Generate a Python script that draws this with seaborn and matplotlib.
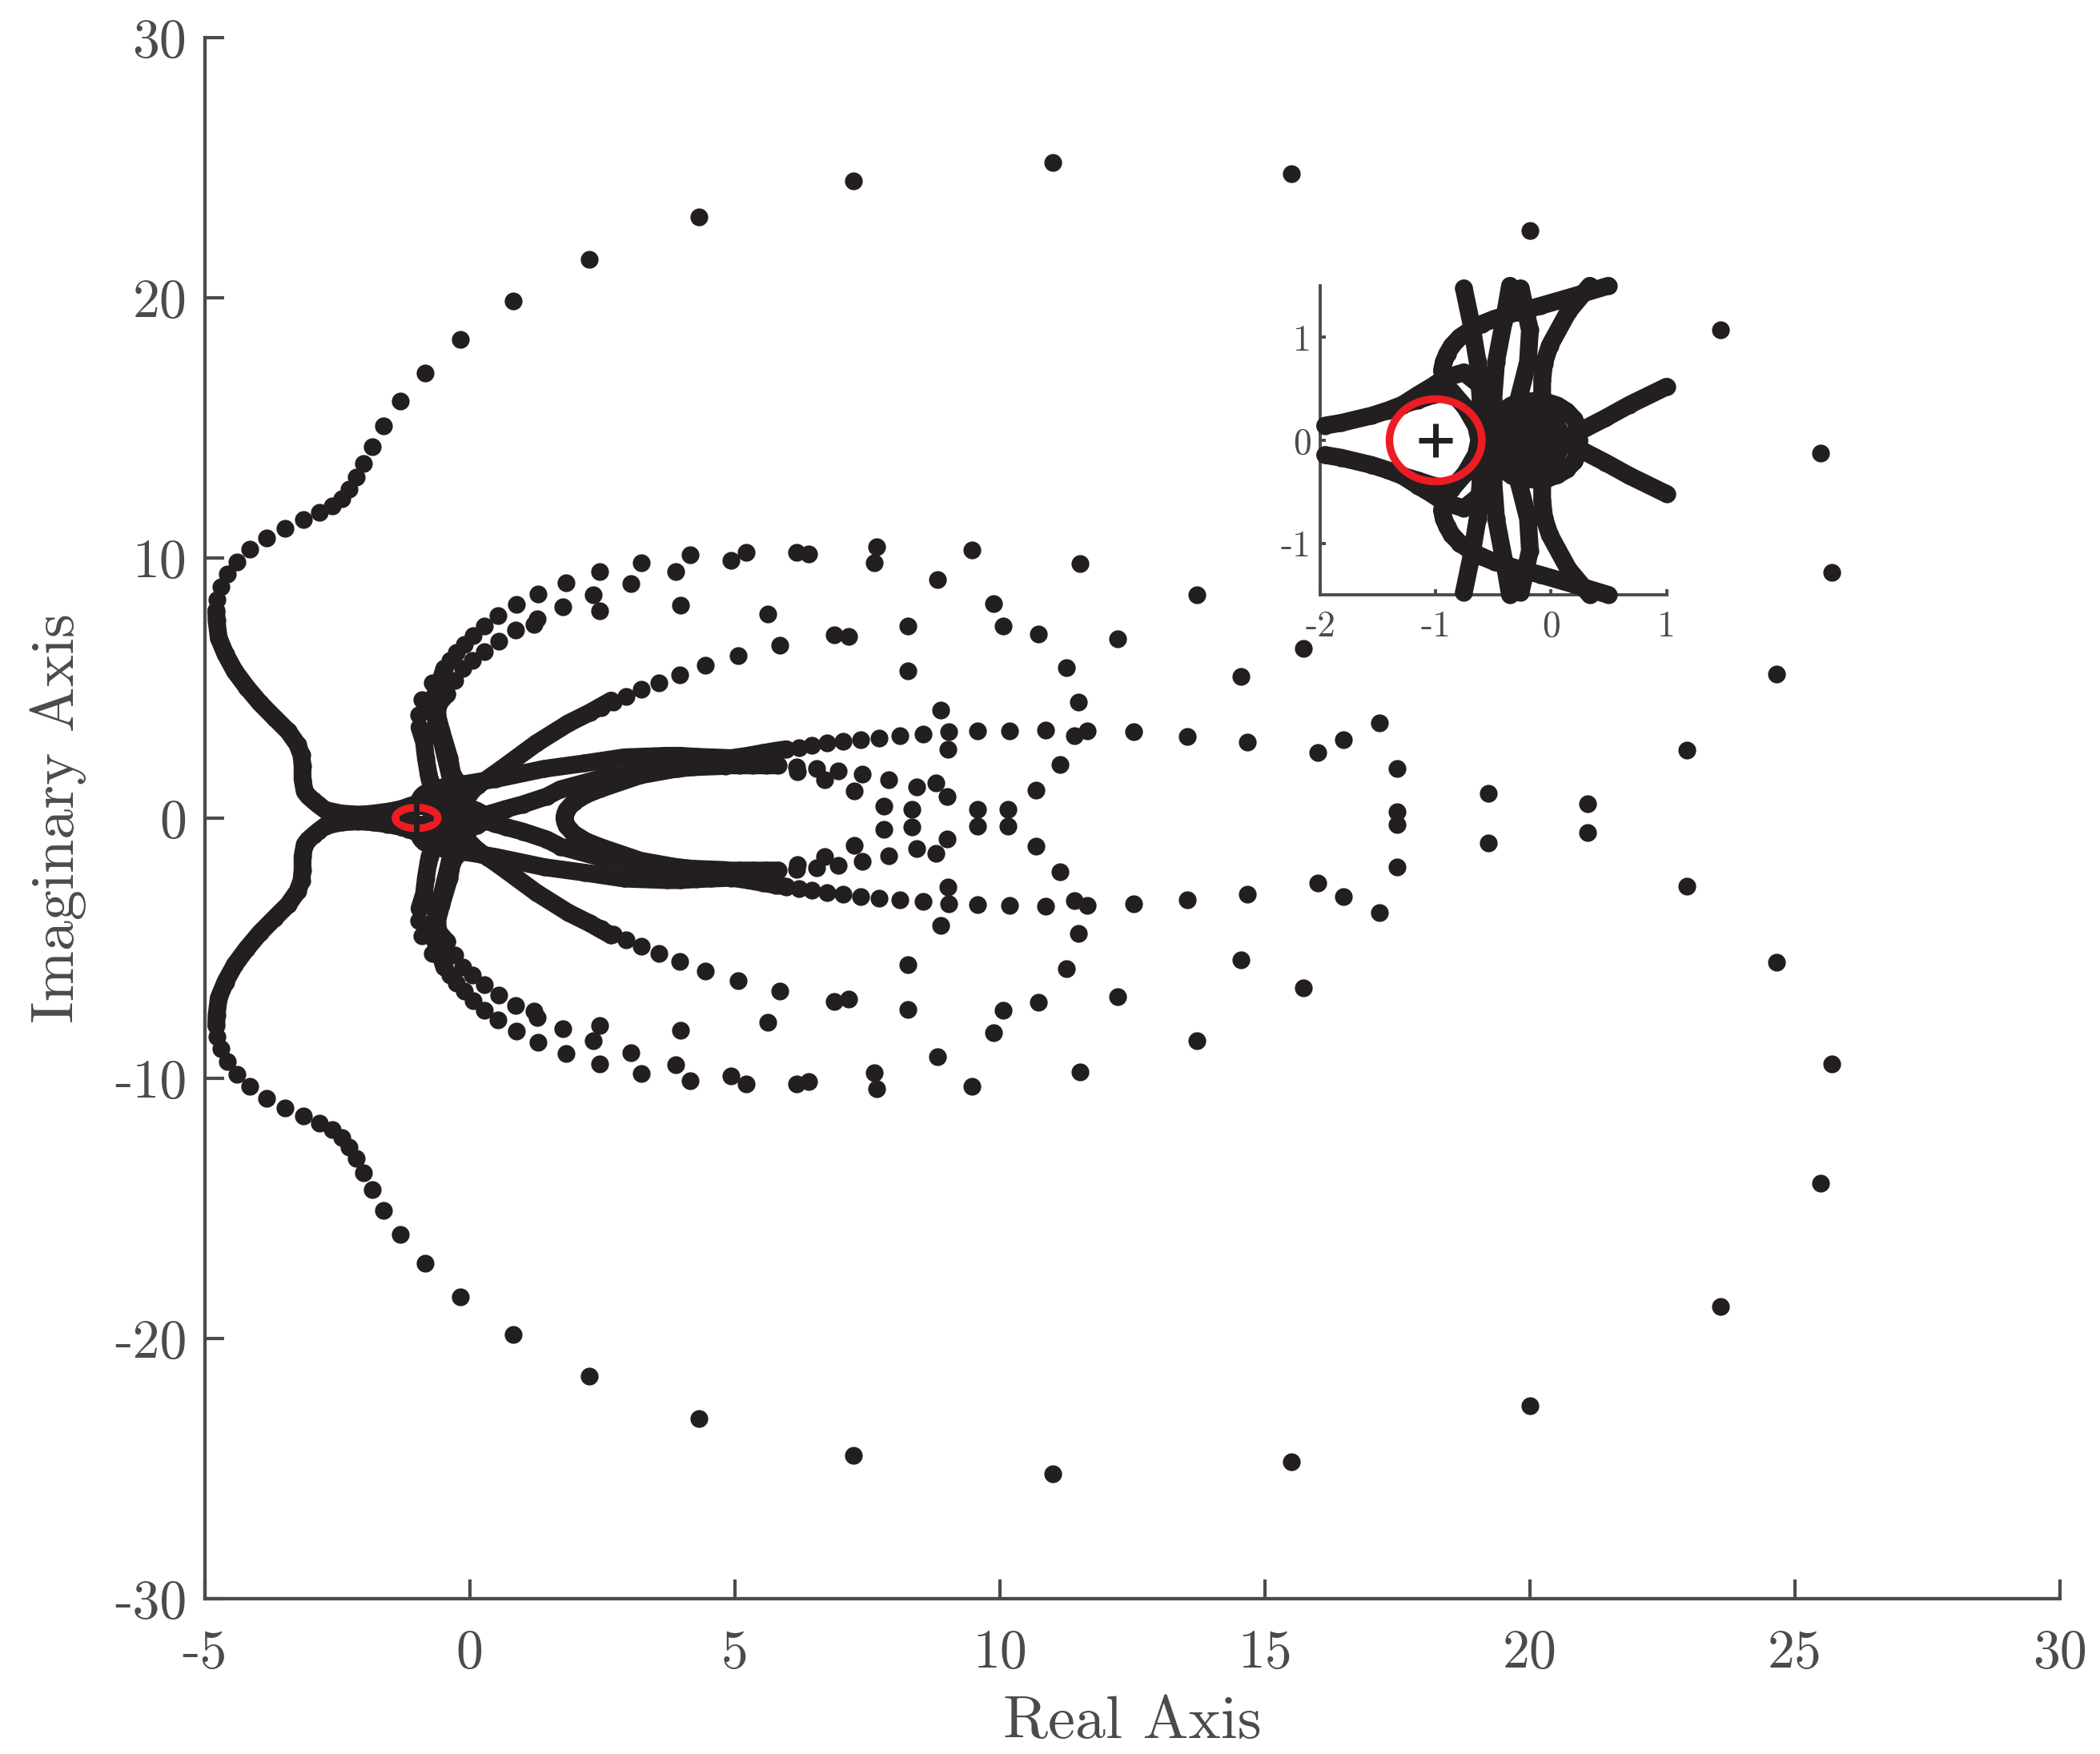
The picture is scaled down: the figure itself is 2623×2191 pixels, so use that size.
import matplotlib
matplotlib.use("Agg")
import matplotlib.pyplot as plt
from matplotlib.patches import Ellipse
import numpy as np
import seaborn as sns

sns.set_style("ticks")
plt.rcParams['font.family'] = ['cmr10', 'DejaVu Serif']
plt.rcParams['axes.unicode_minus'] = False

BLACK = '#231f20'
GREY = '#4b4b4b'
RED = '#ed1c24'

# Isolated closed-loop poles (upper half; the lower half is the conjugate)
sparse_re = [11.0, 15.5, 20.0, 23.59, 25.48, 25.69, 24.65, 22.96, 21.09, 19.22, 17.5, 17.5, 17.17, 16.49, 16.0,
             15.73, 14.67, 13.54, 12.53, 11.65, 11.41, 10.87, 10.19, 9.58, 9.04, 8.56, 8.12, 7.73, 7.37, 7.04,
             6.74, 6.46, 6.21, 13.72, 14.55, 12.23, 11.52, 11.48, 11.26, 11.13, 10.685, 10.73, 10.06, 9.89, 9.47,
             9.58, 10.16, 9.03, 8.89, 8.83, 8.8, 9.0, 8.44, 8.35, 7.82, 7.91, 7.41, 7.25, 6.96, 6.70, 6.55, 6.19,
             6.17, 8.27, 8.26, 7.685, 7.63, 7.146, 6.884, 6.396, 6.174, 5.85, 5.625, 5.22, 5.06, 4.926, 4.447,
             4.155, 3.984, 3.97, 3.893, 3.566, 3.234, 3.234, 3.042, 2.947, 2.71, 2.49, 2.458, 2.458, 2.337,
             1.824, 1.753, 1.295, 1.269, 1.219, 0.877, 0.872, 0.545, 0.539, 0.283, 0.277, 0.061, 0.051, -0.10,
             -0.125, -0.251, -0.276, -0.377, -0.427, -0.478, -0.699, -0.901, -0.956,
             7.24, 4.33, 2.26, 0.82, -0.171, -0.845, -1.304, -1.621, -1.842, -2.003, -2.134, -2.27, -2.411,
             -2.593, -2.829, -3.131, -3.479, -3.831, -4.143, -4.39, -4.566, -4.687, -4.763]
sparse_im = [25.2, 24.74, 22.58, 18.77, 14.03, 9.45, 5.54, 2.61, 0.55, 0.96, 0.25, 1.89, 3.64, 3.02, 2.5,
             6.52, 2.92, 3.14, 3.30, 3.36, 3.17, 3.38, 3.36, 3.33, 3.30, 3.22, 3.15, 3.07, 3.02, 2.94,
             2.87, 2.79, 2.71, 8.57, 5.45, 6.87, 9.76, 4.44, 5.78, 2.06, 1.08, 7.08, 7.39, 8.24, 10.31,
             0.32, 0.32, 2.64, 4.13, 9.17, 1.36, 0.815, 1.18, 0.34, 0.45, 1.46, 1.67, 1.05, 1.82, 1.48, 1.91, 1.79,
             1.97, 5.64, 7.36, 10.41, 9.80, 6.96, 7.05, 10.13, 10.22, 6.65, 7.84, 10.22, 6.25, 9.90, 5.87,
             10.10, 8.16, 5.51, 9.48, 5.20, 9.82, 4.93, 9.02, 4.68, 4.46, 4.25, 9.46, 7.97, 8.56,
             9.04, 8.10, 8.62, 7.66, 7.43, 8.20, 7.22, 6.80, 7.76, 7.38, 6.40, 7.02, 6.05, 6.66,
             5.74, 6.35, 5.28, 6.05, 4.76, 5.74, 5.20, 4.54, 3.96,
             24.48, 23.09, 21.45, 19.85, 18.39, 17.11, 16.01, 15.08, 14.28, 13.63, 13.09, 12.64, 12.28,
             11.98, 11.73, 11.46, 11.14, 10.77, 10.32, 9.85, 9.36, 8.87, 8.40]

# Dense branches of the locus, read as vertices along each band
left_arm_re = [-4.778, -4.773, -4.733, -4.607, -4.43, -4.204, -3.952, -3.675, -3.423, -3.247, -3.172, -3.152,
               -3.152, -3.111, -3.05, -2.945, -2.85, -2.718, -2.416, -2.11, -1.957, -1.819, -1.553, -1.42,
               -1.287, -1.154, -1.02]
left_arm_im = [7.97, 7.58, 6.92, 6.30, 5.64, 5.02, 4.41, 3.84, 3.33, 2.82, 2.41, 2.00,
               1.48, 1.02, 0.85, 0.66, 0.5, 0.30, 0.17, 0.13, 0.143, 0.169, 0.24, 0.288,
               0.345, 0.39, 0.44]
tail_top_re = [-1.287, -1.154, -1.02, -0.93]
tail_top_im = [0.345, 0.44, 0.53, 0.60]
hub_arc_re = [0.242, 0.237, 0.202, 0.136, 0.056, -0.037, -0.144, -0.25, -0.343, -0.423, -0.476, -0.508, -0.516]
hub_arc_im = [0.0, 0.112, 0.203, 0.281, 0.338, 0.371, 0.382, 0.371, 0.340, 0.281, 0.203, 0.112, 0.0]
hub_fill_re = [0.15, -0.55, -0.55, 0.07, 0.02, -0.4, -0.3, -0.05]
hub_fill_im = [0.0, 0.0, 0.10, 0.10, 0.2, 0.2, 0.3, 0.3]
band4_re = [4.83, 4.2, 3.37, 2.47, 1.713, 1.46, 1.0, 0.68, 0.47, 0.15]
band4_im = [2.0, 1.95, 1.78, 1.52, 1.1, 0.83, 0.52, 0.345, 0.215, 0.03]
loop_re = [1.788, 1.80, 1.83, 1.965, 2.2, 2.47, 3.22, 3.93, 4.33, 4.58, 4.83, 5.09, 5.34, 5.59, 5.82]
loop_im = [0.0, 0.15, 0.3, 0.61, 0.9, 1.12, 1.64, 1.90, 2.0, 2.02, 2.02, 2.02, 2.02, 2.02, 2.02]
band2_re = [-0.93, -0.945, -0.93, -0.90, -0.86, -0.79, -0.70, -0.60, -0.49, -0.29, -0.09, 0.2, 0.495, 1.411,
            2.166, 2.92, 3.727, 3.98, 4.28, 4.558, 4.935, 5.24, 5.54, 5.77, 5.978]
band2_im = [0.60, 0.68, 0.76, 0.84, 0.917, 1.0, 1.07, 1.13, 1.18, 1.245, 1.306, 1.40, 1.5, 1.89,
            2.10, 2.33, 2.39, 2.39, 2.35, 2.33, 2.30, 2.39, 2.5, 2.58, 2.64]
diag_re = [2.67, 2.267, 1.864, 1.26, 0.606, 0.335, 0.15, -0.011, -0.06, -0.077, -0.077]
diag_im = [4.51, 4.05, 3.64, 2.87, 1.89, 1.5, 1.25, 0.92, 0.75, 0.58, 0.345]
curl_re = [-0.93, -0.755, -0.636]
curl_im = [0.60, 0.66, 0.553]
inner_re = [-1.02, -0.862, -0.742, -0.649, -0.622]
inner_im = [0.44, 0.475, 0.319, 0.138, 0.0]
k_re = [-0.946, -0.86, -0.825, -0.775, -0.755, -0.69, -0.636, -0.61, -0.59]
k_im = [3.48, 2.92, 2.3, 1.69, 1.475, 1.125, 0.76, 0.40, 0.0]
e_re = [-0.478, -0.56, -0.66, -0.68, -0.62, -0.53, -0.46, -0.40, -0.356, -0.41, -0.476, -0.5, -0.47]
e_im = [5.74, 5.2, 4.7, 4.2, 3.6, 3.0, 2.4, 1.9, 1.5, 1.15, 0.76, 0.4, 0.0]
l_re = [-0.427, -0.58, -0.62, -0.533, -0.382, -0.33, -0.263, -0.183, -0.2, -0.277, -0.33]
l_im = [4.76, 4.4, 4.0, 3.33, 2.3, 1.69, 1.475, 1.07, 0.76, 0.42, 0.0]

branches = [(left_arm_re, left_arm_im), (tail_top_re, tail_top_im), (hub_arc_re, hub_arc_im),
            (hub_fill_re, hub_fill_im), (band4_re, band4_im), (loop_re, loop_im), (band2_re, band2_im),
            (diag_re, diag_im), (curl_re, curl_im), (inner_re, inner_im), (k_re, k_im), (e_re, e_im),
            (l_re, l_im)]

critical_re, critical_im = -1, 0
circle_d = 0.8

main_xticks = [-5, 0, 5, 10, 15, 20, 25, 30]
main_yticks = [-30, -20, -10, 0, 10, 20, 30]
inset_xticks = [-2, -1, 0, 1]
inset_yticks = [-1, 0, 1]

W, H = 2623, 2191
fig = plt.figure(figsize=(W / 200, H / 200), dpi=200, facecolor='white')
ax = fig.add_axes([255.5 / W, 1 - 1997 / H, (2573 - 255.5) / W, (1997 - 46.5) / H])
ins = fig.add_axes([1649 / W, 1 - 743 / H, (2081.5 - 1649) / W, (743 - 357) / H])

DOT = 8.0


def draw(a, xlim, ylim):
    sr = np.array(sparse_re); si = np.array(sparse_im)
    xs = [sr]; ys = [si]
    for re, im in branches:
        re = np.array(re); im = np.array(im)
        keep = (re >= xlim[0]) & (re <= xlim[1]) & (np.abs(im) <= ylim[1])
        for sign in (1, -1):
            sns.lineplot(x=re[keep], y=sign * im[keep], sort=False, estimator=None, errorbar=None, ax=a,
                         color=BLACK, linewidth=DOT, solid_capstyle='round', solid_joinstyle='round',
                         clip_on=False, zorder=3, legend=False)
        xs.append(re); ys.append(im)
    x = np.concatenate(xs); y = np.concatenate(ys)
    keep = (x >= xlim[0]) & (x <= xlim[1]) & (np.abs(y) <= ylim[1])
    x = x[keep]; y = y[keep]
    sns.scatterplot(x=np.r_[x, x], y=np.r_[y, -y], s=DOT ** 2, color=BLACK, linewidth=0, ax=a,
                    clip_on=False, zorder=3, legend=False)
    a.add_patch(Ellipse((critical_re, critical_im), circle_d, circle_d, fill=False, edgecolor=RED,
                        linewidth=3.4, zorder=4, clip_on=False))
    a.plot([critical_re], [critical_im], marker='+', ms=15, mew=2.5, color=BLACK, zorder=5, ls='none')
    a.set_xlim(*xlim)
    a.set_ylim(*ylim)
    a.set_xlabel(''); a.set_ylabel('')
    a.spines['top'].set_visible(False)
    a.spines['right'].set_visible(False)


draw(ax, (-5, 30), (-30, 30))
draw(ins, (-2, 1), (-1.5, 1.5))

ax.set_xticks(main_xticks, [str(v) for v in main_xticks])
ax.set_yticks(main_yticks, [str(v) for v in main_yticks])
ax.tick_params(axis='x', direction='in', length=8.8, width=1.5, color=GREY, labelcolor=GREY,
               labelsize=24.4, pad=13.5)
ax.tick_params(axis='y', direction='in', length=8.8, width=1.5, color=GREY, labelcolor=GREY,
               labelsize=24.4, pad=8)
for s in ('left', 'bottom'):
    ax.spines[s].set_linewidth(1.55)
    ax.spines[s].set_color(GREY)
ax.set_xlabel('Real Axis', fontsize=27.4, color=GREY, va='center')
ax.set_ylabel('Imaginary Axis', fontsize=27.4, color=GREY, va='center')
ax.xaxis.set_label_coords(0.5, (1997 - 2152) / (1997 - 46.5))
ax.yaxis.set_label_coords((73 - 255.5) / (2573 - 255.5), 0.5)

ins.set_xticks(inset_xticks, [str(v) for v in inset_xticks])
ins.set_yticks(inset_yticks, [str(v) for v in inset_yticks])
ins.tick_params(axis='x', direction='in', length=2.4, width=1.4, color=GREY, labelcolor=GREY,
                labelsize=16.4, pad=7)
ins.tick_params(axis='y', direction='in', length=2.4, width=1.4, color=GREY, labelcolor=GREY,
                labelsize=16.4, pad=4)
for s in ('left', 'bottom'):
    ins.spines[s].set_linewidth(1.4)
    ins.spines[s].set_color(GREY)
ins.patch.set_alpha(0)

fig.savefig('out.png', dpi=200, facecolor='white')
